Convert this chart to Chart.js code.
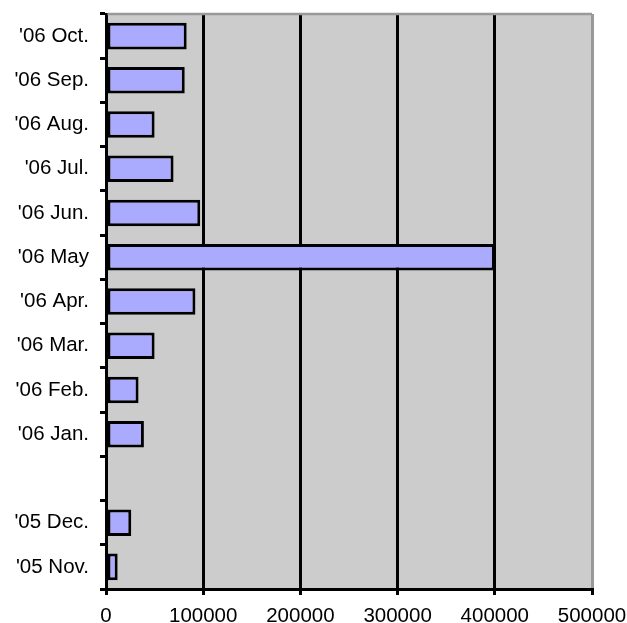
<!DOCTYPE html>
<html>
<head>
<meta charset="utf-8">
<script src="https://cdn.jsdelivr.net/npm/chart.js@4/dist/chart.umd.min.js"></script>
<style>
html,body{margin:0;padding:0;background:#fff;}
canvas{display:block;}
</style>
</head>
<body>
<canvas id="c" width="627" height="623"></canvas>
<script>
const categories = ["'06 Oct.", "'06 Sep.", "'06 Aug.", "'06 Jul.", "'06 Jun.", "'06 May", "'06 Apr.", "'06 Mar.", "'06 Feb.", "'06 Jan.", "", "'05 Dec.", "'05 Nov."];
const values = [83000, 81000, 50000, 69500, 97000, 400000, 92000, 50000, 33500, 39000, null, 26000, 12000];
const xTicks = [0, 100000, 200000, 300000, 400000, 500000];

const FONT = {family: "'Liberation Sans', Arial, sans-serif", size: 20.5};

const plotBg = {
  id: 'plotBg',
  beforeDraw(chart) {
    const {ctx, chartArea: a} = chart;
    ctx.save();
    ctx.fillStyle = '#cccccc';
    ctx.fillRect(a.left, a.top, a.right - a.left, a.bottom - a.top);
    ctx.restore();
  },
  afterDraw(chart) {
    const {ctx, chartArea: a} = chart;
    ctx.save();
    ctx.strokeStyle = '#999999';
    ctx.lineWidth = 2.5;
    ctx.beginPath();
    ctx.moveTo(a.left + 1.5, a.top);
    ctx.lineTo(a.right, a.top);
    ctx.stroke();
    ctx.restore();
  }
};

new Chart(document.getElementById('c'), {
  type: 'bar',
  data: {
    labels: categories,
    datasets: [{
      data: values,
      backgroundColor: '#aaaaff',
      borderColor: '#000000',
      borderWidth: 3,
      borderSkipped: false,
      barPercentage: 0.6,
      categoryPercentage: 1.0
    }]
  },
  options: {
    indexAxis: 'y',
    responsive: false,
    animation: false,
    devicePixelRatio: 1,
    layout: {padding: {top: 14, right: 35, left: 0, bottom: 0}},
    plugins: {legend: {display: false}, tooltip: {enabled: false}},
    scales: {
      x: {
        type: 'linear',
        min: 0,
        max: 500000,
        afterBuildTicks(scale) { scale.ticks = xTicks.map(v => ({value: v})); },
        afterFit(scale) { scale.height = 34; scale.paddingLeft = 0; scale.paddingRight = 0; },
        ticks: {
          font: FONT,
          color: '#000',
          padding: 9,
          maxRotation: 0,
          autoSkip: false,
          callback: v => String(v)
        },
        grid: {
          color: c => (c.tick && c.tick.value === 500000) ? '#999999' : '#000000',
          lineWidth: 3,
          tickLength: 6,
          tickColor: '#000000',
          tickWidth: 3
        },
        border: {display: true, color: '#000', width: 3}
      },
      y: {
        type: 'category',
        offset: true,
        afterFit(scale) { scale.width = 106; scale.paddingTop = 0; scale.paddingBottom = 0; },
        ticks: {
          font: FONT,
          color: '#000',
          padding: 11,
          autoSkip: false
        },
        grid: {
          offset: true,
          drawOnChartArea: false,
          tickLength: 6,
          tickColor: '#000',
          tickWidth: 3,
          color: '#000',
          lineWidth: 3
        },
        border: {display: true, color: '#000', width: 3}
      }
    }
  },
  plugins: [plotBg]
});
</script>
</body>
</html>
